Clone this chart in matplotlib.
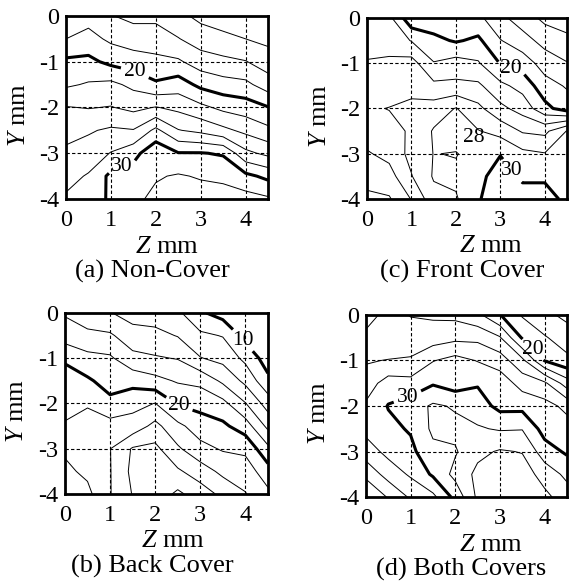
import numpy as np
import matplotlib
matplotlib.use('Agg')
import matplotlib.pyplot as plt

plt.rcParams['font.family'] = 'Liberation Serif'
plt.rcParams['mathtext.fontset'] = 'custom'
plt.rcParams['mathtext.rm'] = 'Liberation Serif'
plt.rcParams['mathtext.it'] = 'Liberation Serif:italic'
plt.rcParams['axes.unicode_minus'] = False

# Grille de mesure (mm)
z_mm = [0.0, 0.5, 1.0, 1.5, 2.0, 2.5, 3.0, 3.5, 4.0, 4.5]
y_mm = [0.0, -0.5, -1.0, -1.5, -2.0, -2.5, -3.0, -3.5, -4.0]

# Valeurs mesurées, une liste par colonne Z (de Y=0 à Y=-4)
non_cover = [
    [16.5, 18.0, 20.4, 21.7, 24.1, 25.3, 26.4, 27.3, 28.3],
    [17.2, 18.7, 20.5, 22.2, 23.9, 25.8, 26.8, 28.2, 29.0],
    [16.1, 17.6, 19.5, 22.5, 24.1, 26.3, 28.1, 30.5, 30.3],
    [15.5, 17.0, 19.0, 21.5, 23.5, 26.1, 29.3, 31.0, 31.5],
    [15.5, 17.0, 18.5, 20.3, 24.1, 28.5, 31.5, 31.8, 32.5],
    [14.5, 16.1, 18.3, 21.0, 23.5, 26.1, 30.1, 32.2, 32.5],
    [13.5, 15.0, 17.0, 19.5, 22.5, 25.5, 30.1, 31.8, 33.0],
    [13.0, 14.5, 16.5, 18.8, 21.5, 24.5, 29.8, 31.5, 33.0],
    [12.5, 14.0, 16.1, 18.5, 21.0, 23.5, 26.5, 30.5, 32.8],
    [12.0, 13.5, 15.0, 17.0, 20.1, 22.5, 25.5, 29.5, 32.3],
]
front_cover = [
    [23.0, 23.5, 24.1, 25.0, 25.8, 25.0, 23.8, 22.8, 21.5],
    [22.5, 23.3, 24.3, 25.2, 26.05, 25.5, 24.6, 23.2, 21.8],
    [18.5, 21.9, 24.8, 25.2, 26.6, 26.2, 26.6, 25.9, 24.1],
    [18.8, 20.5, 22.1, 24.5, 26.9, 28.2, 28.05, 28.2, 27.3],
    [19.0, 19.8, 22.8, 24.5, 28.1, 29.0, 27.9, 28.4, 27.8],
    [18.5, 20.4, 22.2, 24.4, 26.5, 28.1, 28.8, 29.4, 29.7],
    [16.5, 18.1, 19.9, 22.5, 24.5, 27.3, 29.9, 31.0, 32.0],
    [15.0, 16.8, 19.1, 21.3, 23.2, 25.8, 28.5, 29.6, 31.0],
    [13.5, 15.3, 17.1, 18.8, 20.6, 25.5, 28.1, 29.6, 31.0],
    [13.0, 14.5, 16.1, 17.8, 19.0, 28.1, 28.3, 28.8, 29.4],
]
back_cover = [
    [15.8, 17.0, 19.8, 20.6, 21.0, 22.3, 22.3, 21.6, 21.3],
    [14.8, 16.5, 18.6, 20.3, 21.8, 22.8, 23.0, 22.4, 21.5],
    [14.1, 16.3, 18.3, 19.2, 20.5, 22.8, 23.95, 23.9, 23.9],
    [13.2, 14.8, 16.6, 19.3, 21.4, 22.8, 26.2, 26.5, 26.1],
    [13.0, 14.6, 16.2, 18.6, 22.05, 24.6, 26.5, 27.0, 26.8],
    [12.4, 13.9, 15.9, 17.8, 19.8, 22.5, 24.3, 26.3, 28.4],
    [10.3, 12.4, 14.1, 17.5, 19.3, 21.0, 22.6, 25.0, 27.0],
    [9.2, 11.9, 13.4, 15.6, 18.6, 20.4, 21.8, 23.5, 25.5],
    [8.3, 9.3, 11.5, 13.5, 16.1, 19.0, 21.5, 23.1, 24.1],
    [8.8, 8.5, 9.0, 10.5, 13.1, 15.5, 18.5, 20.8, 22.5],
]
both_covers = [
    [23.0, 24.6, 25.8, 27.0, 28.3, 28.6, 27.0, 24.6, 21.8],
    [24.8, 24.2, 26.1, 28.9, 30.1, 29.5, 28.6, 26.8, 24.2],
    [23.9, 25.0, 26.2, 28.7, 31.0, 30.2, 29.5, 28.3, 26.3],
    [23.7, 25.0, 27.9, 29.8, 32.3, 32.4, 31.5, 30.3, 27.5],
    [23.5, 25.5, 28.7, 29.0, 31.8, 32.5, 31.8, 32.6, 30.6],
    [22.5, 25.5, 27.9, 29.8, 31.0, 32.2, 33.5, 34.5, 34.4],
    [20.1, 24.2, 27.0, 29.2, 29.4, 31.8, 34.2, 35.0, 35.0],
    [17.8, 19.8, 24.5, 27.2, 29.4, 31.9, 33.9, 35.0, 35.0],
    [16.5, 18.2, 19.9, 26.4, 28.7, 29.2, 30.9, 33.2, 34.5],
    [15.5, 17.0, 18.5, 23.0, 27.5, 28.8, 29.7, 31.5, 33.0],
]

thin_levels = [12, 14, 16, 18, 22, 24, 26, 28, 32, 34, 36]
bold_levels = [10, 20, 30]

# (données, légende, [gauche, bas, largeur, hauteur], étiquettes, notes, x légende, x titre Z)
panels = [
    (non_cover, '(a) Non-Cover', [0.1158, 0.6587, 0.3544, 0.3139],
     [(1.55, -1.2), (1.25, -3.3)], [], 0.43, 0.50),
    (front_cover, '(c) Front Cover', [0.6439, 0.6587, 0.3509, 0.3105],
     [(3.25, -1.1), (3.3, -3.35)], [(28, (2.4, -2.65))], 0.475, 0.62),
    (back_cover, '(b) Back Cover', [0.1140, 0.1527, 0.3560, 0.3105],
     [(3.95, -0.6), (2.55, -1.95)], [], 0.43, 0.53),
    (both_covers, '(d) Both Covers', [0.6420, 0.1475, 0.3526, 0.3122],
     [(3.75, -0.75), (0.95, -1.85)], [], 0.475, 0.62),
]

fig = plt.figure(figsize=(5.7, 5.83), dpi=100)

for data, caption, rect, label_pos, notes, cap_x, zlab_x in panels:
    ax = fig.add_axes(rect)
    T = np.array(data).T

    ax.set_xlim(0, 4.5)
    ax.set_ylim(-4, 0)
    ax.set_xticks([0, 1, 2, 3, 4])
    ax.set_yticks([0, -1, -2, -3, -4])
    ax.set_xticklabels(['0', '1', '2', '3', '4'])
    ax.set_yticklabels(['0', '-1', '-2', '-3', '-4'])
    ax.tick_params(length=0, labelsize=17.5)
    ax.tick_params(axis='x', pad=8)
    ax.tick_params(axis='y', pad=5)
    ax.grid(True, color='k', linestyle=(0, (3, 2)), linewidth=0.8)
    ax.set_axisbelow(True)
    for s in ax.spines.values():
        s.set_linewidth(2.0)

    ax.contour(z_mm, y_mm, T, levels=thin_levels, colors='k', linewidths=0.7)
    cs = ax.contour(z_mm, y_mm, T, levels=bold_levels, colors='k', linewidths=2.2)

    txt = ax.clabel(cs, manual=label_pos, inline=True, inline_spacing=4,
                    fontsize=15.5, fmt='%d')
    for t in txt:
        t.set_rotation(0)
    for l, (x, y) in notes:
        ax.text(x, y, '%d' % l, fontsize=15.5, ha='center', va='center')

    ax.text(zlab_x, -0.295, '$Z$ mm', transform=ax.transAxes, ha='center',
            va='baseline', fontsize=19)
    ax.text(-0.235, 0.46, '$Y$ mm', transform=ax.transAxes, ha='center',
            va='center', rotation=90, fontsize=19)
    ax.text(cap_x, -0.432, caption, transform=ax.transAxes, ha='center',
            va='baseline', fontsize=19)

fig.savefig('out.png', dpi=100)
